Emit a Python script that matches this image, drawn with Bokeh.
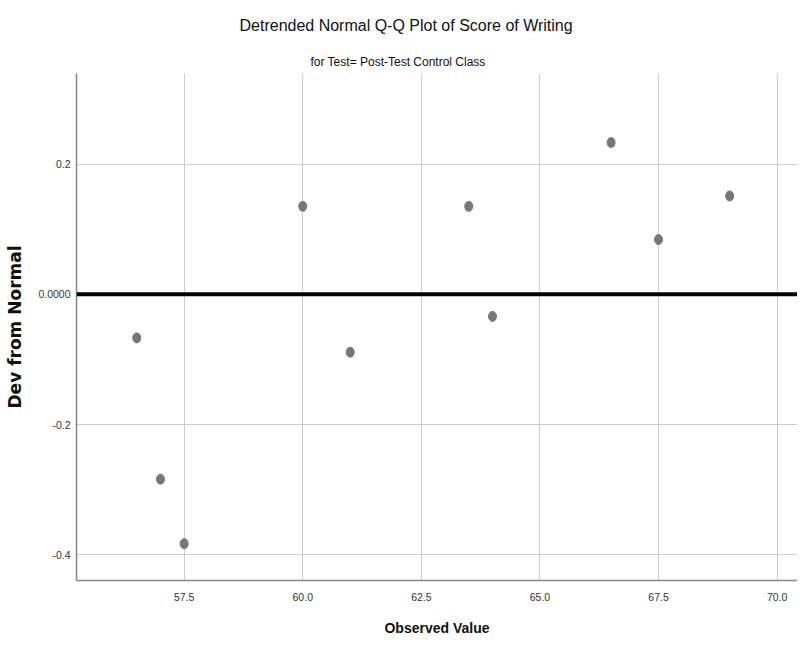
from bokeh.plotting import figure
from bokeh.models import Title, FixedTicker, Span, Range1d
from bokeh.embed import file_html
from bokeh.resources import INLINE

observed = [56.5, 57.0, 57.5, 60.0, 61.0, 63.5, 64.0, 66.5, 67.5, 69.0]
deviation = [-0.067, -0.284, -0.383, 0.135, -0.089, 0.135, -0.034, 0.233, 0.084, 0.151]
x_ticks = [57.5, 60.0, 62.5, 65.0, 67.5, 70.0]
x_tick_labels = ["57.5", "60.0", "62.5", "65.0", "67.5", "70.0"]
y_ticks = [-0.4, -0.2, 0.0, 0.2]
y_tick_labels = ["-0.4", "-0.2", "0.0000", "0.2"]

SANS = "Liberation Sans"

p = figure(width=797, height=638, output_backend="svg", toolbar_location=None,
           x_range=Range1d(55.23, 70.43), y_range=Range1d(-0.4395, 0.339),
           min_border_left=76, min_border_right=0, min_border_top=73, min_border_bottom=58)
p.outline_line_color = None
p.background_fill_color = "white"

p.add_layout(Title(text="for Test= Post-Test Control Class", align="left", offset=234,
                   text_font=SANS, text_font_size="12px", text_font_style="normal",
                   text_color="#111111", standoff=10), "above")
p.add_layout(Title(text="Detrended Normal Q-Q Plot of Score of Writing", align="left", offset=163,
                   text_font=SANS, text_font_size="16px", text_font_style="normal",
                   text_color="#111111", standoff=27), "above")

p.xaxis.ticker = FixedTicker(ticks=x_ticks)
p.yaxis.ticker = FixedTicker(ticks=y_ticks)
p.xaxis.major_label_overrides = {t: l for t, l in zip(x_ticks, x_tick_labels)}
p.yaxis.major_label_overrides = {t: l for t, l in zip(y_ticks, y_tick_labels)}

for ax in (p.xaxis, p.yaxis):
    ax.major_tick_line_color = None
    ax.minor_tick_line_color = None
    ax.major_tick_out = 0
    ax.major_tick_in = 0
    ax.minor_tick_out = 0
    ax.minor_tick_in = 0
    ax.axis_line_color = "#888888"
    ax.axis_line_width = 1.5
    ax.major_label_text_font = SANS
    ax.major_label_text_font_size = "10.5px"
    ax.major_label_text_color = "#333333"

p.xaxis.major_label_standoff = 12
p.yaxis.major_label_standoff = 6
p.xaxis.axis_label = "Observed Value"
p.xaxis.axis_label_text_font = SANS
p.xaxis.axis_label_text_font_size = "14px"
p.xaxis.axis_label_text_font_style = "bold"
p.xaxis.axis_label_text_color = "#111111"
p.xaxis.axis_label_standoff = 16
p.yaxis.axis_label = "Dev from Normal"
p.yaxis.axis_label_text_font = "DejaVu Sans"
p.yaxis.axis_label_text_font_size = "17px"
p.yaxis.axis_label_text_font_style = "bold"
p.yaxis.axis_label_text_color = "#111111"
p.yaxis.axis_label_standoff = 10

p.xgrid.grid_line_color = "#cccccc"
p.ygrid.grid_line_color = "#cccccc"
p.xgrid.grid_line_width = 1
p.ygrid.grid_line_width = 1

p.add_layout(Span(location=0, dimension="width", line_color="black", line_width=4))

p.ellipse(x=observed, y=deviation, width=8, height=10, width_units="screen",
          height_units="screen", fill_color="#777777", line_color="#777777")

open("out.html", "w").write(file_html(p, INLINE))
